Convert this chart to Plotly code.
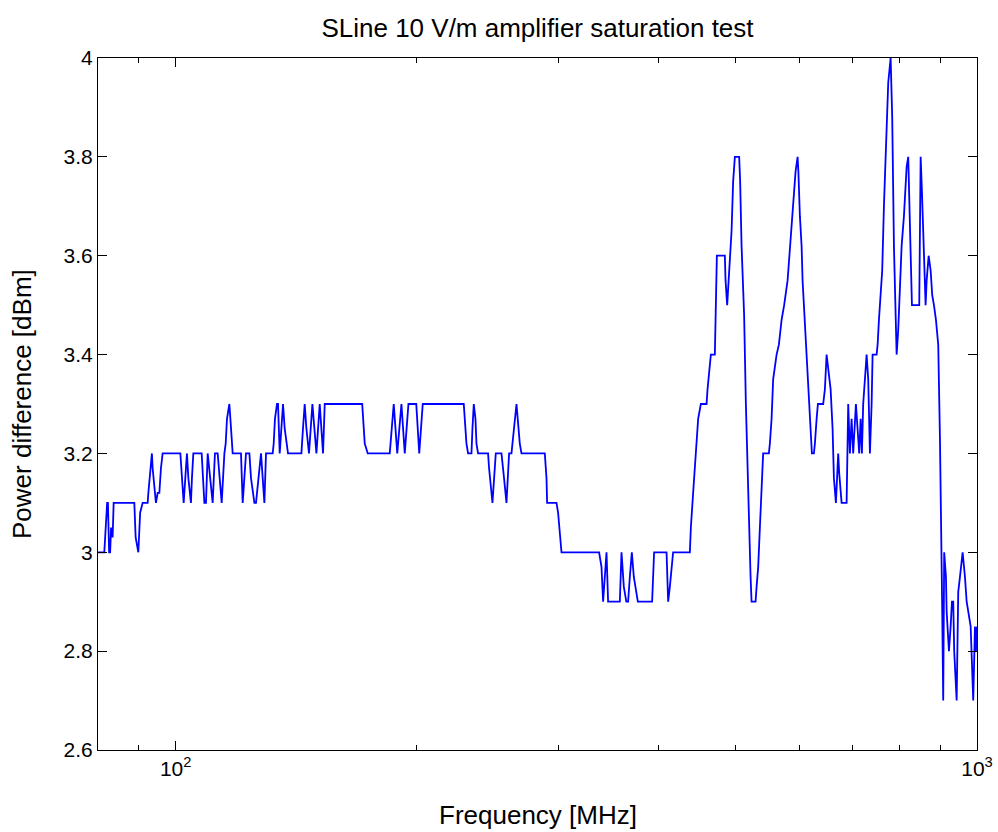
import numpy as np
import plotly.graph_objects as go

TITLE = "SLine 10 V/m amplifier saturation test"
X_LABEL = "Frequency [MHz]"
Y_LABEL = "Power difference [dBm]"

X_MAJOR_TICKS = [100, 1000]
X_MAJOR_TEXT = ["10<sup>2</sup>", "10<sup>3</sup>"]
X_MINOR_TICKS = [90, 200, 300, 400, 500, 600, 700, 800, 900]
Y_TICKS = [2.6, 2.8, 3.0, 3.2, 3.4, 3.6, 3.8, 4.0]
Y_TEXT = ["2.6", "2.8", "3", "3.2", "3.4", "3.6", "3.8", "4"]

# frequency [MHz] and power difference [dBm]
FREQ_80_134 = [80.0, 81.46, 81.66, 81.89, 82.13, 82.31, 82.60, 82.84, 83.07, 83.43,
               83.68, 88.80, 89.14, 89.83, 90.30, 90.95, 92.27, 92.45, 93.14, 93.40,
               93.60, 94.14, 94.49, 94.96, 95.42, 95.86, 96.33, 101.36, 101.74, 102.33,
               103.00, 103.30, 103.72, 104.49, 104.79, 105.21, 107.76, 108.60, 109.10, 109.64,
               111.22, 111.95, 112.83, 114.14, 115.03, 115.46, 115.89, 116.69, 117.03, 117.47,
               117.80, 120.65, 121.24, 122.40, 123.60, 124.17, 125.39, 125.97, 127.79, 129.04,
               129.64, 132.16, 132.54, 133.02, 133.80]
POW_80_134 = [3.0, 3.0, 3.03, 3.08, 3.1, 3.1, 3.0, 3.0, 3.05, 3.03,
              3.1, 3.1, 3.03, 3.0, 3.08, 3.1, 3.1, 3.12, 3.17, 3.2,
              3.17, 3.12, 3.1, 3.12, 3.12, 3.17, 3.2, 3.2, 3.15, 3.1,
              3.17, 3.2, 3.15, 3.1, 3.15, 3.2, 3.2, 3.1, 3.1, 3.2,
              3.1, 3.2, 3.2, 3.1, 3.2, 3.22, 3.27, 3.3, 3.27, 3.22,
              3.2, 3.2, 3.1, 3.2, 3.2, 3.15, 3.1, 3.1, 3.2, 3.1,
              3.2, 3.2, 3.22, 3.27, 3.3]

FREQ_134_229 = [134.19, 134.85, 136.14, 136.80, 138.10, 143.52, 144.17, 144.89, 145.60, 146.69,
                148.13, 149.85, 151.28, 152.73, 153.47, 154.93, 169.71, 170.92, 172.17, 173.66,
                185.00, 187.13, 189.03, 191.32, 193.15, 195.21, 199.64, 201.36, 203.40, 228.84]
POW_134_229 = [3.3, 3.2, 3.3, 3.25, 3.2, 3.2, 3.25, 3.3, 3.25, 3.2,
               3.3, 3.2, 3.3, 3.2, 3.3, 3.3, 3.3, 3.3, 3.22, 3.2,
               3.2, 3.3, 3.2, 3.3, 3.2, 3.3, 3.3, 3.2, 3.3, 3.3]

FREQ_229_438 = [229.50, 230.62, 231.69, 233.96, 234.62, 235.52, 236.65, 237.35, 238.44, 245.40,
                246.10, 248.51, 250.89, 255.03, 256.91, 258.73, 260.67, 262.47, 263.21, 266.27,
                268.81, 270.12, 288.84, 290.25, 290.76, 298.72, 300.09, 301.57, 303.04, 337.62,
                339.96, 341.50, 344.88, 346.47, 358.33, 360.07, 362.47, 365.08, 366.97, 368.78,
                370.90, 373.04, 375.19, 377.35, 393.18, 394.30, 395.41, 409.81, 410.99, 411.70,
                413.72, 415.74, 417.63, 438.20]
POW_229_438 = [3.27, 3.22, 3.2, 3.2, 3.25, 3.3, 3.27, 3.22, 3.2, 3.2,
               3.17, 3.1, 3.2, 3.2, 3.15, 3.1, 3.2, 3.2, 3.22, 3.3,
               3.22, 3.2, 3.2, 3.15, 3.1, 3.1, 3.08, 3.03, 3.0, 3.0,
               2.97, 2.9, 3.0, 2.9, 2.9, 3.0, 2.93, 2.9, 2.9, 2.95,
               3.0, 2.95, 2.92, 2.9, 2.9, 2.95, 3.0, 3.0, 2.95, 2.9,
               2.93, 2.97, 3.0, 3.0]

FREQ_439_690 = [439.46, 442.34, 444.54, 446.72, 448.77, 452.27, 459.74, 461.06, 463.19, 465.46,
                470.84, 471.75, 473.56, 484.57, 485.51, 487.79, 490.18, 493.99, 496.23, 498.70,
                504.90, 506.34, 508.39, 512.14, 514.73, 518.14, 521.74, 523.22, 529.24, 530.81,
                533.25, 535.87, 538.48, 540.93, 549.91, 551.49, 554.19, 556.70, 562.22, 565.95,
                570.35, 574.56, 580.28, 584.13, 586.98, 589.65, 593.72, 597.20, 598.57, 601.16,
                604.10, 605.81, 608.11, 611.62, 615.67, 619.94, 622.26, 625.85, 627.65, 630.73,
                633.09, 642.75, 645.96, 649.11, 653.98, 656.63, 660.37, 662.88, 666.70, 669.20,
                671.11, 673.05, 675.77, 677.70, 687.53, 688.72, 690.69]
POW_439_690 = [3.05, 3.12, 3.17, 3.22, 3.27, 3.3, 3.3, 3.33, 3.37, 3.4,
               3.4, 3.5, 3.6, 3.6, 3.55, 3.5, 3.57, 3.65, 3.75, 3.8,
               3.8, 3.75, 3.62, 3.48, 3.3, 3.1, 2.95, 2.9, 2.9, 2.93,
               2.97, 3.05, 3.15, 3.2, 3.2, 3.22, 3.27, 3.35, 3.4, 3.42,
               3.47, 3.5, 3.55, 3.62, 3.67, 3.72, 3.77, 3.8, 3.77, 3.68,
               3.62, 3.55, 3.5, 3.42, 3.35, 3.25, 3.2, 3.2, 3.22, 3.27,
               3.3, 3.3, 3.33, 3.4, 3.35, 3.33, 3.25, 3.15, 3.1, 3.15,
               3.2, 3.16, 3.12, 3.1, 3.1, 3.2, 3.3]

FREQ_694_1000 = [694.08, 697.47, 700.64, 706.16, 712.88, 715.77, 718.44, 721.07, 724.66, 728.21,
                 731.56, 733.67, 735.15, 738.74, 740.83, 749.44, 751.60, 754.42, 758.12, 761.57,
                 765.34, 771.30, 774.85, 780.23, 783.78, 787.65, 791.44, 793.79, 797.44, 801.36,
                 805.27, 810.63, 813.59, 816.94, 820.70, 824.73, 827.10, 829.48, 847.07, 848.78,
                 850.50, 853.67, 856.80, 860.32, 862.73, 865.29, 870.28, 875.30, 879.29, 883.64,
                 888.73, 894.61, 899.01, 904.93, 907.50, 910.06, 914.65, 916.49, 922.57, 927.10,
                 930.56, 933.97, 936.60, 943.21, 947.55, 952.20, 959.56, 965.99, 970.72, 981.95,
                 987.54, 989.23, 994.16, 997.02, 1000.0]
POW_694_1000 = [3.2, 3.27, 3.2, 3.3, 3.2, 3.27, 3.2, 3.3, 3.35, 3.4,
                3.35, 3.25, 3.2, 3.3, 3.4, 3.4, 3.42, 3.47, 3.52, 3.57,
                3.7, 3.85, 3.95, 4.0, 3.88, 3.62, 3.45, 3.4, 3.45, 3.55,
                3.62, 3.68, 3.73, 3.78, 3.8, 3.68, 3.6, 3.5, 3.5, 3.6,
                3.8, 3.73, 3.65, 3.55, 3.5, 3.55, 3.6, 3.57, 3.52, 3.5,
                3.47, 3.42, 3.23, 2.88, 2.7, 3.0, 2.95, 2.88, 2.8, 2.85,
                2.9, 2.9, 2.8, 2.7, 2.92, 2.95, 3.0, 2.95, 2.9, 2.85,
                2.75, 2.7, 2.85, 2.8, 2.85]

freq = FREQ_80_134 + FREQ_134_229 + FREQ_229_438 + FREQ_439_690 + FREQ_694_1000
power = POW_80_134 + POW_134_229 + POW_229_438 + POW_439_690 + POW_694_1000

FONT = "Liberation Sans, Arial, Helvetica, sans-serif"
TICK_SIZE = 21
LABEL_SIZE = 26

fig = go.Figure()
fig.add_trace(go.Scatter(
    x=freq, y=power, mode="lines",
    line=dict(color="#0000ff", width=1.8),
    showlegend=False, hoverinfo="x+y",
))

fig.update_layout(
    width=998, height=832,
    margin=dict(l=98, r=21, t=58, b=82, autoexpand=False),
    paper_bgcolor="white", plot_bgcolor="white",
    font=dict(family=FONT, color="black", size=TICK_SIZE),
    title=dict(text=TITLE, x=0.5, xref="paper", xanchor="center",
               y=1 - 28 / 832, yref="container", yanchor="middle",
               font=dict(family=FONT, size=LABEL_SIZE, color="black")),
)

fig.update_xaxes(
    type="log", range=[np.log10(80), np.log10(1000)],
    showgrid=False, zeroline=False,
    showline=True, linecolor="black", linewidth=1, mirror="allticks",
    ticks="inside", ticklen=9, tickwidth=1, tickcolor="black",
    tickmode="array", tickvals=X_MAJOR_TICKS, ticktext=X_MAJOR_TEXT,
    tickfont=dict(size=TICK_SIZE, family=FONT),
    minor=dict(ticks="inside", ticklen=5, tickwidth=1, tickcolor="black",
               tickmode="array", tickvals=X_MINOR_TICKS, showgrid=False),
)
fig.update_yaxes(
    range=[2.6, 4.0],
    showgrid=False, zeroline=False,
    showline=True, linecolor="black", linewidth=1, mirror="allticks",
    ticks="inside", ticklen=9, tickwidth=1, tickcolor="black",
    tickmode="array", tickvals=Y_TICKS, ticktext=Y_TEXT,
    tickfont=dict(size=TICK_SIZE, family=FONT),
)

fig.add_annotation(text=X_LABEL, xref="paper", yref="paper",
                   x=0.5, y=-(815 - 750) / 692, xanchor="center", yanchor="middle",
                   showarrow=False, font=dict(family=FONT, size=LABEL_SIZE, color="black"))
fig.add_annotation(text=Y_LABEL, xref="paper", yref="paper",
                   x=-(98 - 22) / 879, y=0.5, xanchor="center", yanchor="middle",
                   textangle=-90, showarrow=False,
                   font=dict(family=FONT, size=LABEL_SIZE, color="black"))

fig.write_html("out.html")
